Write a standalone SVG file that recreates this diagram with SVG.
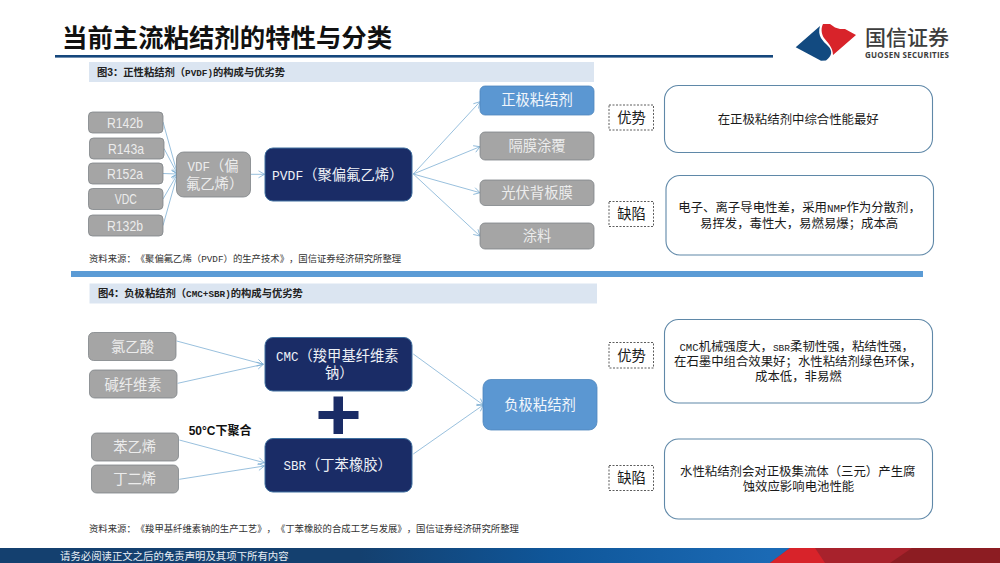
<svg xmlns="http://www.w3.org/2000/svg" width="1000" height="563" viewBox="0 0 1000 563">
<style>
text{font-family:"Liberation Sans","Noto Sans CJK SC",sans-serif;text-spacing-trim:space-all}
.m{font-family:"Liberation Mono",monospace}
.g rect{fill:#a5a5a5;stroke:#7f8488;stroke-width:.8}
.g text{fill:#ececec;font-size:14.3px;text-anchor:middle}
.n rect{fill:#1a2c66;stroke:#3f6f9f;stroke-width:1}
.n text{fill:#eef1f6;font-size:14.3px;text-anchor:start}
.b rect{fill:#5b97d2;stroke:#4f86bd;stroke-width:.8}
.b text{fill:#f2f6fb;font-size:14.3px;text-anchor:middle}
.d rect{fill:#fff;stroke:#333;stroke-width:.8;stroke-dasharray:2 1.5}
.d text{fill:#1a1a1a;font-size:14.3px;text-anchor:middle}
.r rect{fill:#fff;stroke:#5f88a8;stroke-width:1.1}
.r text{fill:#1a1a1a;font-size:12.4px;text-anchor:start}
.h rect{fill:#dbe5f1}
.h text{fill:#222;font-size:10.3px;font-weight:700}
.s{fill:#333;font-size:9.36px}
g text.st{text-anchor:start}
#connectors path{fill:none;stroke:#7fb0d4;stroke-width:.8}
#connectors path.a{marker-end:url(#arr)}
</style>
<defs>
<marker id="arr" markerUnits="userSpaceOnUse" markerWidth="10" markerHeight="10" refX="8" refY="5" orient="auto"><path d="M2 1.500L8 5L2 8.500" fill="none" stroke="#7fb0d4" stroke-width=".8"/></marker>
<linearGradient id="foot" x1="0" x2="1" y1="0" y2="0"><stop offset="0" stop-color="#14406f"/><stop offset=".36" stop-color="#14406f"/><stop offset=".55" stop-color="#0f5699"/><stop offset=".77" stop-color="#1b6ab5"/></linearGradient>
</defs>
<rect width="1000" height="563" fill="#fff"/>

<g id="header">
<text x="62" y="47" font-size="25.4" font-weight="700" fill="#111" style='font-family:"Noto Sans CJK SC",sans-serif'>当前主流粘结剂的特性与分类</text>
<rect x="55" y="55" width="718" height="2.600" fill="#15477c"/>
</g>
<g id="logo">
<path d="M795.700 47.300L820 26C817 36 823 41 828 46C833 51 832 56 826 60.500L821 60.700Z" fill="#124a80"/>
<path d="M823 24L830 24L835 27.500L840 29L845 29L856 35L833 55C833 47 827 42 824 38C821 33 821 28 823 24Z" fill="#d8232a"/>
<text x="865" y="44.500" font-size="21" font-weight="500" fill="#3d3d3d" style='font-family:"Noto Sans CJK SC",sans-serif'>国信证券</text>
<text x="865" y="58" font-size="8" font-weight="700" fill="#3d3d3d" textLength="84" style='font-family:"Open Sans",sans-serif'>GUOSEN SECURITIES</text>
</g>

<g id="panel3-title" class="h"><rect x="89" y="62" width="505" height="20"/><text x="97" y="75.500">图3&#xFF1A;正性粘结剂&#xFF08;<tspan class="m" font-size="9.300">PVDF)</tspan>的构成与优劣势</text></g>
<g id="connectors">
<path class="a" d="M163 122L177.500 174"/><path class="a" d="M164 148.500L177.500 174"/><path class="a" d="M163 173.500L177.500 174"/><path class="a" d="M163 199L177.500 174"/><path class="a" d="M163 225.500L177.500 174"/>
<path class="a" d="M251 174.300L264.500 174.300"/>
<path class="a" d="M413.300 174L480 101.700"/><path class="a" d="M413.300 174L480 146.700"/><path class="a" d="M413.300 174L480 192.700"/><path class="a" d="M413.300 174L480 236"/>
<path class="a" d="M176.700 341L263.300 364.300"/><path class="a" d="M177.700 383.300L263.300 364.300"/><path class="a" d="M179.300 440L264.300 462.700"/><path class="a" d="M179.300 479.300L264.300 466"/>
<path class="a" d="M413.300 354L483.300 405"/><path class="a" d="M413.300 454L483.300 405"/>
</g>
<g id="r142b" class="g"><rect x="88.500" y="112" width="74.500" height="21" rx="4"/><text x="125" y="127.700" textLength="36" lengthAdjust="spacingAndGlyphs">R142b</text></g>
<g id="r143a" class="g"><rect x="89.500" y="138" width="74.500" height="21" rx="4"/><text x="126" y="153.700" textLength="36" lengthAdjust="spacingAndGlyphs">R143a</text></g>
<g id="r152a" class="g"><rect x="88.500" y="163" width="74.500" height="21" rx="4"/><text x="125" y="178.700" textLength="36" lengthAdjust="spacingAndGlyphs">R152a</text></g>
<g id="vdc" class="g"><rect x="88.500" y="188.500" width="74.500" height="21" rx="4"/><text x="125.800" y="204.300" textLength="22" lengthAdjust="spacingAndGlyphs">VDC</text></g>
<g id="r132b" class="g"><rect x="88.500" y="215" width="74.500" height="21" rx="4"/><text x="125" y="230.700" textLength="36" lengthAdjust="spacingAndGlyphs">R132b</text></g>
<g id="vdf" class="g"><rect x="176.500" y="152" width="74" height="45" rx="7"/><text class="st" x="187.500" y="170.700"><tspan class="m" font-size="12.500">VDF</tspan>&#xFF08;偏</text><text class="st" x="186" y="188.500">氟乙烯&#xFF09;</text></g>
<g id="pvdf" class="n"><rect x="265" y="148" width="147" height="53" rx="8"/><text x="272" y="180"><tspan class="m" font-size="13">PVDF</tspan>&#xFF08;聚偏氟乙烯&#xFF09;</text></g>
<g id="pos" class="b"><rect x="480" y="86" width="114" height="29" rx="5"/><text x="537" y="105">正极粘结剂</text></g>
<g id="sep" class="g"><rect x="480" y="132" width="114" height="28" rx="5"/><text x="537" y="151">隔膜涂覆</text></g>
<g id="pv" class="g"><rect x="480" y="180" width="114" height="25.500" rx="5"/><text x="537" y="198">光伏背板膜</text></g>
<g id="coat" class="g"><rect x="480" y="223" width="114" height="26" rx="5"/><text x="537" y="241">涂料</text></g>
<g id="adv1" class="d"><rect x="609" y="105" width="44.500" height="25"/><text x="631.500" y="122.700">优势</text></g>
<g id="dis1" class="d"><rect x="609" y="201.500" width="44.500" height="25"/><text x="631.500" y="219">缺陷</text></g>
<g id="adv1-text" class="r"><rect x="664.500" y="85.500" width="268" height="67" rx="14"/><text x="717.700" y="123.500">在正极粘结剂中综合性能最好</text></g>
<g id="dis1-text" class="r"><rect x="666" y="175.500" width="267.500" height="79.500" rx="14"/><text x="678.300" y="212">电子、离子导电性差&#xFF0C;采用<tspan class="m" font-size="10.800">NMP</tspan>作为分散剂&#xFF0C;</text><text x="700" y="227.500">易挥发&#xFF0C;毒性大&#xFF0C;易燃易爆&#xFF1B;成本高</text></g>
<text class="s" x="89" y="262">资料来源&#xFF1A;《聚偏氟乙烯&#xFF08;<tspan class="m">PVDF</tspan>&#xFF09;的生产技术》&#xFF0C;国信证券经济研究所整理</text>
<rect id="divider" x="71" y="271" width="852" height="6" fill="#5b9bd5"/>

<g id="panel4-title" class="h"><rect x="89.500" y="283.500" width="507.500" height="20"/><text x="98" y="297">图4&#xFF1A;负极粘结剂&#xFF08;<tspan class="m" font-size="9.300">CMC+SBR)</tspan>的构成与优劣势</text></g>
<g id="clac" class="g"><rect x="88.500" y="332.500" width="87.500" height="28" rx="5"/><text x="132.500" y="351.800">氯乙酸</text></g>
<g id="alk" class="g"><rect x="89.500" y="370" width="87.500" height="28" rx="5"/><text x="133" y="389.500">碱纤维素</text></g>
<g id="sty" class="g"><rect x="91.500" y="433" width="87" height="28" rx="5"/><text x="134.700" y="452">苯乙烯</text></g>
<g id="but" class="g"><rect x="91.500" y="465" width="87" height="28" rx="5"/><text x="134.700" y="484">丁二烯</text></g>
<g id="cmc" class="n"><rect x="265" y="337.500" width="147" height="53.500" rx="8"/><text x="276" y="361"><tspan class="m" font-size="12.500">CMC</tspan>&#xFF08;羧甲基纤维素</text><text x="325" y="378">钠&#xFF09;</text></g>
<g id="sbr" class="n"><rect x="265" y="438.500" width="147" height="53.500" rx="8"/><text x="283.500" y="470"><tspan class="m" font-size="12.500">SBR</tspan>&#xFF08;丁苯橡胶&#xFF09;</text></g>
<path id="plus" d="M333.500 396.500H343V411H358.500V419H343V434H333.500V419H318.500V411H333.500Z" fill="#1a2c66"/>
<text id="temp" x="188.700" y="434.500" font-size="12" font-weight="700" fill="#111">50°C下聚合</text>
<g id="neg" class="b"><rect x="483" y="379.500" width="114" height="50.500" rx="8"/><text x="540" y="410">负极粘结剂</text></g>
<g id="adv2" class="d"><rect x="609" y="342.500" width="44.500" height="25.500"/><text x="631.500" y="360.500">优势</text></g>
<g id="dis2" class="d"><rect x="609" y="465.500" width="44.500" height="25"/><text x="631.500" y="483">缺陷</text></g>
<g id="adv2-text" class="r"><rect x="664.500" y="319.500" width="268" height="83.500" rx="14"/><text x="679.500" y="350.500"><tspan class="m" font-size="10.600">CMC</tspan>机械强度大&#xFF0C;<tspan class="m" font-size="9.500">SBR</tspan>柔韧性强&#xFF0C;粘结性强&#xFF0C;</text><text x="674" y="365.500">在石墨中组合效果好&#xFF1B;水性粘结剂绿色环保&#xFF0C;</text><text x="755" y="381">成本低&#xFF0C;非易燃</text></g>
<g id="dis2-text" class="r"><rect x="664.500" y="439" width="268" height="80" rx="14"/><text x="680" y="476">水性粘结剂会对正极集流体&#xFF08;三元&#xFF09;产生腐</text><text x="742.700" y="491">蚀效应影响电池性能</text></g>
<text class="s" x="89" y="532">资料来源&#xFF1A;《羧甲基纤维素钠的生产工艺》&#xFF0C;《丁苯橡胶的合成工艺与发展》&#xFF0C;国信证券经济研究所整理</text>

<g id="footer">
<rect x="0" y="548" width="1000" height="15" fill="url(#foot)"/>
<path d="M770 563L790 548H1000V563Z" fill="#a8222c"/>
<path d="M770 563L790 548H815L825 563Z" fill="#d8232a"/>
<path d="M890 563L912 548H1000V563Z" fill="#8c1c22"/>
<text x="60" y="560" font-size="10.400" fill="#e8eef5" style='font-family:"Noto Sans CJK SC",sans-serif'>请务必阅读正文之后的免责声明及其项下所有内容</text>
</g>
</svg>
